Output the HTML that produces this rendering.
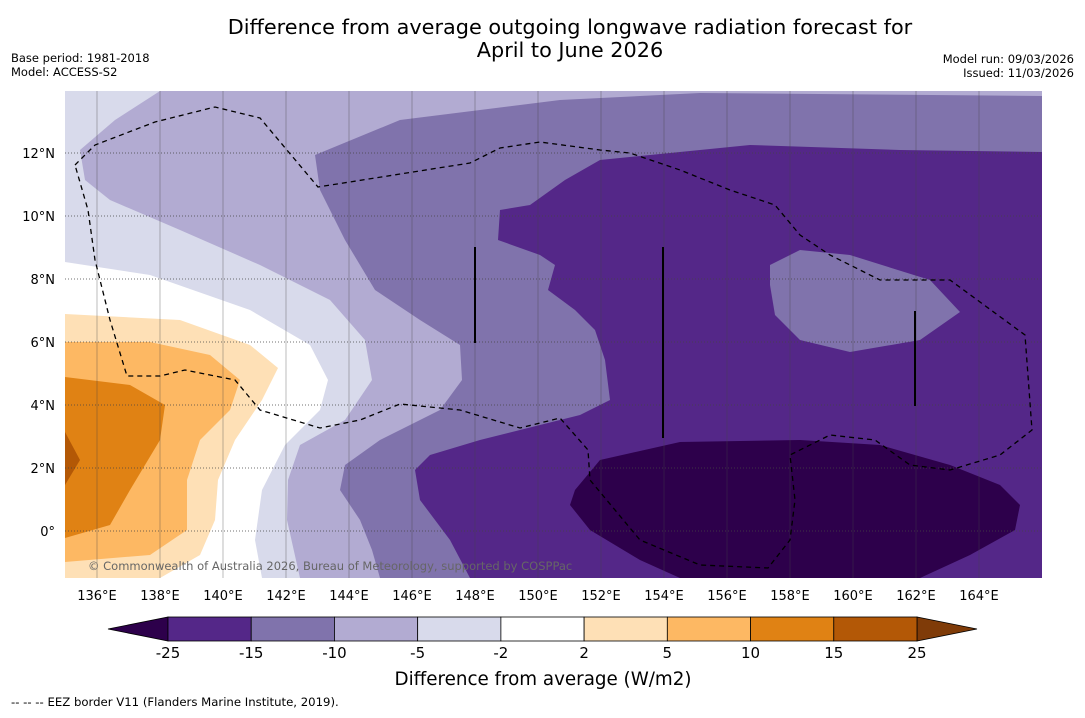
<!DOCTYPE html>
<html><head><meta charset="utf-8"><style>
body{margin:0;background:#fff;width:1085px;height:713px;overflow:hidden;font-family:"Liberation Sans","DejaVu Sans",sans-serif}
svg text{font-family:"DejaVu Sans","Liberation Sans",sans-serif}
</style></head><body>
<svg width="1085" height="713" xmlns="http://www.w3.org/2000/svg">
<text x="570" y="34" font-size="20.8" text-anchor="middle">Difference from average outgoing longwave radiation forecast for</text>
<text x="570" y="57" font-size="20.8" text-anchor="middle">April to June 2026</text>
<text x="11" y="62" font-size="11.5">Base period: 1981-2018</text>
<text x="11" y="76" font-size="11.5">Model: ACCESS-S2</text>
<text x="1074" y="63" font-size="11.5" text-anchor="end">Model run: 09/03/2026</text>
<text x="1074" y="77" font-size="11.5" text-anchor="end">Issued: 11/03/2026</text>
<defs><clipPath id="mc"><rect x="65" y="91" width="977" height="487"/></clipPath></defs>
<g clip-path="url(#mc)">
<rect x="65" y="91" width="977" height="487" fill="#d8daeb"/>
<path fill="#ffffff" d="M65,262 L150,275 L250,310 L310,345 L328,380 L320,410 L285,445 L262,490 L255,540 L262,578 L65,578Z"/>
<path fill="#fee0b6" d="M65,314 L180,320 L250,345 L278,368 L262,400 L235,440 L218,480 L215,520 L200,555 L160,578 L65,578Z"/>
<path fill="#fdb863" d="M65,342 L150,342 L210,355 L240,380 L230,410 L200,440 L187,480 L187,530 L150,555 L65,562Z"/>
<path fill="#e08214" d="M65,377 L130,385 L165,405 L160,440 L130,490 L110,525 L65,538Z"/>
<path fill="#b35806" d="M65,432 L80,460 L65,485Z"/>
<path fill="#b2abd2" d="M160,91 L115,120 L80,150 L85,180 L110,200 L180,230 L260,265 L330,300 L365,340 L372,380 L345,420 L300,445 L288,480 L287,520 L300,578 L1042,578 L1042,91Z"/>
<path fill="#8073ac" d="M1042,96 L700,93 L560,100 L400,120 L315,155 L320,190 L345,240 L375,290 L420,320 L460,345 L462,380 L440,410 L380,440 L345,465 L340,490 L360,520 L372,550 L380,578 L1042,578Z"/>
<path fill="#542788" d="M1042,152 L900,150 L750,145 L600,160 L565,180 L530,205 L500,210 L498,240 L540,255 L555,265 L548,290 L575,310 L595,330 L605,360 L610,400 L580,415 L540,425 L480,440 L430,455 L415,470 L420,500 L450,540 L470,578 L1042,578Z"/>
<path fill="#8073ac" d="M770,265 L800,250 L850,255 L930,280 L960,312 L920,340 L850,352 L800,340 L775,315 L770,285Z"/>
<path fill="#2d004b" d="M575,490 L600,460 L680,442 L800,440 L880,445 L950,465 L1000,485 L1020,505 L1015,530 L970,555 L920,578 L680,578 L640,560 L590,530 L570,505Z"/>
<g id="grid"></g>
<path fill="none" stroke="#000" stroke-width="1.3" stroke-dasharray="5,4" d="M75,165 L95,145 L155,122 L215,107 L260,118 L318,187 L470,163 L500,148 L540,142 L600,150 L630,153 L680,170 L730,190 L775,205 L800,235 L830,255 L880,280 L950,280 L1025,335 L1032,430 L1000,455 L950,470 L910,465 L875,440 L830,435 L790,455 L795,500 L790,540 L768,568 L700,565 L640,540 L590,480 L588,450 L560,418 L520,428 L460,410 L400,404 L360,420 L320,428 L260,410 L235,380 L185,370 L160,376 L127,376 L110,320 L95,260 L88,210 L75,165"/>
<g stroke="#000" stroke-width="2">
<line x1="475" y1="247" x2="475" y2="343"/><line x1="663" y1="247" x2="663" y2="438"/><line x1="915" y1="311" x2="915" y2="406"/></g>
<text x="88" y="570" font-size="11.5" fill="#666">© Commonwealth of Australia 2026, Bureau of Meteorology, supported by COSPPac</text>
</g>
<g id="axes"></g>
<g id="cbar"></g>
<text x="543" y="685" font-size="18.3" text-anchor="middle">Difference from average (W/m2)</text>
<text x="11" y="706" font-size="11.7">-- -- -- EEZ border V11 (Flanders Marine Institute, 2019).</text>
</svg>
<script>
const lonTicks=[136,138,140,142,144,146,148,150,152,154,156,158,160,162,164];
const latTicks=[0,2,4,6,8,10,12];
const levels=[-25,-15,-10,-5,-2,2,5,10,15,25];
const levelColors=["#542788","#8073ac","#b2abd2","#d8daeb","#ffffff","#fee0b6","#fdb863","#e08214","#b35806"];
const underColor="#2d004b", overColor="#7f3b08";
const NS="http://www.w3.org/2000/svg";
const xLon=l=>65.5+(l-135)*31.5, yLat=l=>531-l*31.5;
function mk(t,a,p){const e=document.createElementNS(NS,t);for(const k in a)e.setAttribute(k,a[k]);p.appendChild(e);return e;}
const grid=document.getElementById('grid'),axes=document.getElementById('axes'),cb=document.getElementById('cbar');
lonTicks.forEach(l=>{const x=xLon(l);
 const g=mk('line',{x1:x,y1:91,x2:x,y2:578,stroke:'#444','stroke-width':0.6,'stroke-opacity':0.6},grid);
 
 
 const t=mk('text',{x:x,y:600,'font-size':13,'text-anchor':'middle'},axes);t.textContent=l+'°E';
 
 });
latTicks.forEach(l=>{const y=yLat(l);
 const g=mk('line',{x1:65,y1:y,x2:1042,y2:y,stroke:'#444','stroke-width':0.7,'stroke-dasharray':'1,2'},grid);
 
 
 const t=mk('text',{x:55,y:y+5,'font-size':13,'text-anchor':'end'},axes);t.textContent=l===0?'0°':l+'°N';
 
 });
const x0=168,x1=917,cy=617,ch=24,n=levels.length-1,w=(x1-x0)/n;
const lt=mk('polygon',{points:`108,${cy+ch/2} ${x0},${cy} ${x0},${cy+ch}`,fill:underColor,stroke:'#000','stroke-width':0.8},cb);


const rt=mk('polygon',{points:`977,${cy+ch/2} ${x1},${cy} ${x1},${cy+ch}`,fill:overColor,stroke:'#000','stroke-width':0.8},cb);


levelColors.forEach((c,i)=>{const r=mk('rect',{x:x0+i*w,y:cy,width:w,height:ch,fill:c,stroke:'#000','stroke-width':0.8},cb);
 
 });
levels.forEach((v,i)=>{const t=mk('text',{x:x0+i*w,y:658,'font-size':15,'text-anchor':'middle'},cb);t.textContent=v;
 
 });
</script>
</body></html>
